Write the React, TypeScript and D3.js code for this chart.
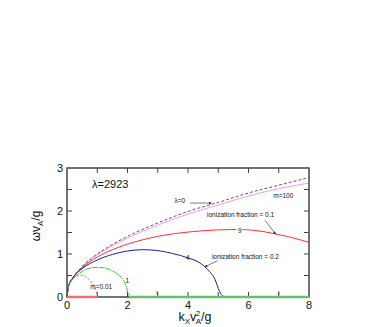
import React, { useEffect, useRef } from 'react';
import * as d3 from 'd3';

// values (k = kx vA^2/g, w = omega vA/g)
const lambda0K = [0, 0.05, 0.2, 0.5, 1, 1.5, 2, 3, 4, 5, 6, 7, 8];
const lambda0W = [0, 0.25, 0.45, 0.71, 1.0, 1.22, 1.41, 1.72, 1.99, 2.2, 2.42, 2.6, 2.78];

const m100K = [0, 0.05, 0.2, 0.5, 1, 1.5, 2, 3, 4, 5, 6, 7, 8];
const m100W = [0, 0.25, 0.45, 0.7, 0.98, 1.19, 1.37, 1.67, 1.93, 2.14, 2.35, 2.52, 2.65];

const ion1K = [0, 0.05, 0.2, 0.5, 1, 1.5, 2, 2.5, 3, 4, 5, 5.7, 6.5, 7, 7.5, 8];
const ion1W = [0, 0.25, 0.45, 0.68, 0.93, 1.1, 1.23, 1.33, 1.41, 1.51, 1.56, 1.57, 1.52, 1.45, 1.37, 1.27];

const ion2K = [0, 0.05, 0.2, 0.5, 1, 1.5, 2, 2.5, 3, 3.5, 4, 4.4, 4.7, 4.9, 5.0, 5.1, 5.2, 5.4, 6.0];
const ion2W = [0, 0.25, 0.45, 0.66, 0.86, 0.99, 1.07, 1.1, 1.08, 1.01, 0.91, 0.79, 0.6, 0.4, 0.2, 0.06, 0.01, 0, 0];

const m1K = [0, 0.05, 0.2, 0.4, 0.6, 0.8, 1.0, 1.2, 1.4, 1.6, 1.8, 1.9, 1.97, 2.03, 2.08];
const m1W = [0, 0.24, 0.42, 0.55, 0.63, 0.68, 0.69, 0.68, 0.64, 0.57, 0.45, 0.35, 0.22, 0.08, 0];

const m001K = [0, 0.05, 0.15, 0.3, 0.45, 0.6, 0.75, 0.88, 0.97, 1.03];
const m001W = [0, 0.22, 0.38, 0.48, 0.51, 0.48, 0.39, 0.26, 0.12, 0];

const redFloor = [0, 1.02];
const greenFloor = [2.05, 8];

const xTickLabels = [0, 2, 4, 6, 8];
const yTickLabels = [0, 1, 2, 3];

const FONT = "'Liberation Sans', Arial, sans-serif";

const App = () => {
  const ref = useRef<SVGSVGElement>(null);

  useEffect(() => {
    const svg = d3.select(ref.current);
    svg.selectAll('*').remove();

    const x = d3.scaleLinear().domain([0, 8]).range([67, 309]);
    const y = d3.scaleLinear().domain([0, 3]).range([297, 168]);

    const line = d3.line<[number, number]>()
      .x(d => x(d[0]))
      .y(d => y(d[1]))
      .curve(d3.curveMonotoneX);
    const pts = (ks: number[], ws: number[]) => ks.map((k, i) => [k, ws[i]] as [number, number]);

    const defs = svg.append('defs');
    defs.append('marker')
      .attr('id', 'arr')
      .attr('viewBox', '0 0 10 10')
      .attr('refX', 9).attr('refY', 5)
      .attr('markerWidth', 6).attr('markerHeight', 5)
      .attr('orient', 'auto')
      .append('path').attr('d', 'M0,1 L10,5 L0,9 Z').attr('fill', '#222');

    const curves = [
      { k: m100K, w: m100W, color: '#f29af2', dash: null, width: 1 },
      { k: lambda0K, w: lambda0W, color: '#333', dash: '3,2', width: 0.8 },
      { k: ion1K, w: ion1W, color: '#ff3030', dash: null, width: 1 },
      { k: ion2K, w: ion2W, color: '#1f1f9a', dash: null, width: 1 },
      { k: m1K, w: m1W, color: '#33cc33', dash: '6,1', width: 1 },
      { k: m001K, w: m001W, color: '#888', dash: '2.5,1.5', width: 0.9 },
    ];
    curves.forEach(c => {
      svg.append('path')
        .attr('d', line(pts(c.k, c.w)))
        .attr('fill', 'none')
        .attr('stroke', c.color)
        .attr('stroke-width', c.width)
        .attr('stroke-dasharray', c.dash);
    });

    // frame
    svg.append('rect')
      .attr('x', x(0)).attr('y', y(3))
      .attr('width', x(8) - x(0)).attr('height', y(0) - y(3))
      .attr('fill', 'none').attr('stroke', '#444').attr('stroke-width', 1.5);

    const tickLen = 5;
    const g = svg.append('g').attr('stroke', '#444').attr('stroke-width', 1);
    d3.range(1, 8).forEach(k => {
      g.append('line').attr('x1', x(k)).attr('x2', x(k)).attr('y1', y(3)).attr('y2', y(3) + tickLen);
      g.append('line').attr('x1', x(k)).attr('x2', x(k)).attr('y1', y(0)).attr('y2', y(0) - tickLen);
    });
    d3.range(0.5, 3, 0.5).forEach(w => {
      g.append('line').attr('x1', x(0)).attr('x2', x(0) + tickLen).attr('y1', y(w)).attr('y2', y(w));
      g.append('line').attr('x1', x(8)).attr('x2', x(8) - tickLen).attr('y1', y(w)).attr('y2', y(w));
    });

    // floor stripes over the axis
    svg.append('line')
      .attr('x1', x(redFloor[0])).attr('x2', x(redFloor[1]))
      .attr('y1', y(0)).attr('y2', y(0))
      .attr('stroke', '#ee7070').attr('stroke-width', 2.5);
    svg.append('line')
      .attr('x1', x(greenFloor[0])).attr('x2', x(greenFloor[1]))
      .attr('y1', y(0)).attr('y2', y(0))
      .attr('stroke', '#6cbf6c').attr('stroke-width', 2.5);

    const t = svg.append('g').attr('font-family', FONT).attr('fill', '#111');
    xTickLabels.forEach(k => {
      t.append('text').attr('x', x(k)).attr('y', y(0) + 12)
        .attr('text-anchor', 'middle').attr('font-size', 11).text(k);
    });
    yTickLabels.forEach(w => {
      t.append('text').attr('x', x(0) - 4).attr('y', y(w) + 4)
        .attr('text-anchor', 'end').attr('font-size', 11).text(w);
    });

    // axis titles
    const xl = t.append('text').attr('x', 195).attr('y', 321)
      .attr('text-anchor', 'middle').attr('font-size', 12.5);
    xl.append('tspan').text('k');
    xl.append('tspan').attr('font-size', 8).attr('dy', 3).text('X');
    xl.append('tspan').attr('dy', -3).text('v');
    xl.append('tspan').attr('font-size', 8).attr('dx', -0.5).attr('dy', -5).text('2');
    xl.append('tspan').attr('font-size', 8).attr('dx', -4.5).attr('dy', 8).text('A');
    xl.append('tspan').attr('dy', -3).text('/g');

    const yl = t.append('text')
      .attr('transform', 'translate(40,226) rotate(-90)')
      .attr('text-anchor', 'middle').attr('font-size', 12);
    yl.append('tspan').text('ωv');
    yl.append('tspan').attr('font-size', 8).attr('dy', 3).text('A');
    yl.append('tspan').attr('dy', -3).text('/g');

    t.append('text').attr('x', 92).attr('y', 188).attr('font-size', 11).text('λ=2923');

    // annotations
    const small = 6.5;
    t.append('text').attr('x', x(3.55)).attr('y', y(2.19)).attr('font-size', small).text('λ=0');
    svg.append('line')
      .attr('x1', x(4.07)).attr('y1', y(2.185)).attr('x2', x(4.78)).attr('y2', y(2.185))
      .attr('stroke', '#222').attr('stroke-width', 0.6).attr('marker-end', 'url(#arr)');

    t.append('text').attr('x', x(6.82)).attr('y', y(2.3)).attr('font-size', small).text('m=100');

    t.append('text').attr('x', x(4.63)).attr('y', y(1.85)).attr('font-size', small).text('ionization fraction = 0.1');
    svg.append('line')
      .attr('x1', x(6.55)).attr('y1', y(1.78)).attr('x2', x(6.9)).attr('y2', y(1.46))
      .attr('stroke', '#222').attr('stroke-width', 0.6).attr('marker-end', 'url(#arr)');
    t.append('rect').attr('x', x(5.6)).attr('y', y(1.62)).attr('width', 6).attr('height', 6).attr('fill', '#fff');
    t.append('text').attr('x', x(5.65)).attr('y', y(1.5)).attr('font-size', small).text('9');

    t.append('text').attr('x', x(4.79)).attr('y', y(0.89)).attr('font-size', small).text('ionization fraction = 0.2');
    svg.append('line')
      .attr('x1', x(4.97)).attr('y1', y(0.84)).attr('x2', x(4.55)).attr('y2', y(0.7))
      .attr('stroke', '#222').attr('stroke-width', 0.6).attr('marker-end', 'url(#arr)');
    t.append('text').attr('x', x(3.93)).attr('y', y(0.85)).attr('font-size', small).text('4');

    t.append('text').attr('x', x(0.77)).attr('y', y(0.19)).attr('font-size', small).text('m=0.01');
    t.append('text').attr('x', x(1.93)).attr('y', y(0.32)).attr('font-size', small).text('1');
    t.append('text').attr('x', x(2.95)).attr('y', y(0.05)).attr('font-size', small).text('ı');
    t.append('text').attr('x', x(6.97)).attr('y', y(0.05)).attr('font-size', small).text('ı');
  }, []);

  return (
    <svg ref={ref} width={382} height={327}
      style={{ position: 'absolute', left: 0, top: 0, background: '#fff' }} />
  );
};

export default App;
